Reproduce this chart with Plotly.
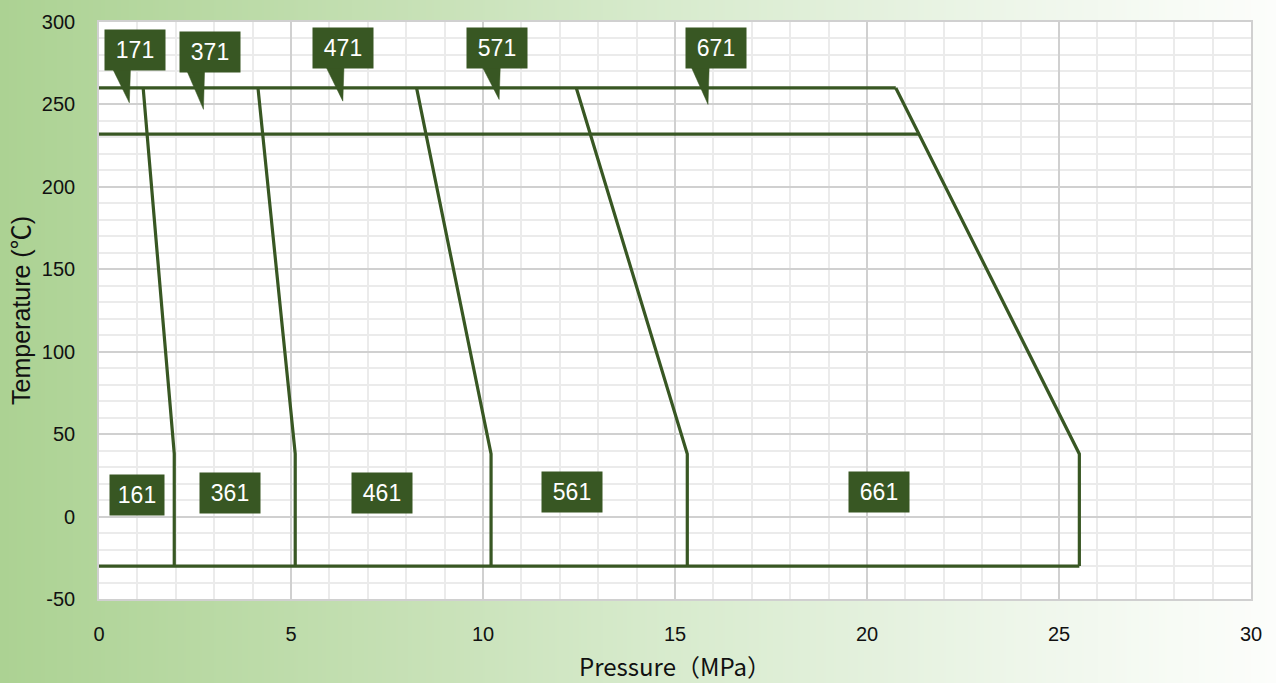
import base64
import struct
import zlib

import plotly.graph_objects as go

# ---- data -------------------------------------------------------------
# temperature levels (degC) that bound the rating envelopes
T_MIN = -30
T_KNEE = 38
T_MID = 232
T_MAX = 260

low_labels = ["161", "361", "461", "561", "661"]
high_labels = ["171", "371", "471", "571", "671"]
# allowable pressure (MPa) at T_KNEE and at T_MAX
p_at_knee = [1.96, 5.11, 10.21, 15.32, 25.53]
p_at_max = [1.15, 4.14, 8.27, 12.43, 20.75]
# end of the intermediate 232 degC line on the 661/671 envelope
p_mid_end = 21.36

# label positions (data coordinates)
low_label_x = [0.98, 3.40, 7.36, 12.32, 20.32]
low_label_y = [13.0, 14.1, 14.1, 14.8, 14.8]
high_label_x = [0.925, 2.88, 6.35, 10.36, 16.06]
high_label_y = [283, 282, 284, 284, 284]
high_tip_x = [0.79, 2.72, 6.35, 10.42, 15.86]
high_tip_y = [251, 247, 252, 253, 250]

x_ticks = [0, 5, 10, 15, 20, 25, 30]
y_ticks = [-50, 0, 50, 100, 150, 200, 250, 300]

# ---- style ------------------------------------------------------------
W, H = 1276, 683
ML, MR, MT, MB = 99, 25, 22, 84
PW, PH = W - ML - MR, H - MT - MB
GREEN = "#385723"
LW = 3.2
BOX_H_DATA = 40 * 350 / PH  # label box height in y units


def gradient_png(stops, width, height=2):
    """Horizontal colour ramp encoded as a small PNG data URI."""
    def col(t):
        for (t0, c0), (t1, c1) in zip(stops, stops[1:]):
            if t <= t1:
                f = (t - t0) / (t1 - t0) if t1 > t0 else 0
                return bytes(round(a + (b - a) * f) for a, b in zip(c0, c1))
        return bytes(stops[-1][1])

    row = b"\x00" + b"".join(col(i / (width - 1)) for i in range(width))
    raw = row * height

    def chunk(tag, data):
        return (struct.pack(">I", len(data)) + tag + data
                + struct.pack(">I", zlib.crc32(tag + data) & 0xFFFFFFFF))

    png = (b"\x89PNG\r\n\x1a\n"
           + chunk(b"IHDR", struct.pack(">IIBBBBB", width, height, 8, 2, 0, 0, 0))
           + chunk(b"IDAT", zlib.compress(raw))
           + chunk(b"IEND", b""))
    return "data:image/png;base64," + base64.b64encode(png).decode()


bg_stops = [
    (0.00, (172, 210, 147)),
    (0.20, (188, 219, 168)),
    (0.35, (201, 226, 185)),
    (0.50, (214, 234, 203)),
    (0.66, (226, 240, 219)),
    (0.80, (238, 246, 234)),
    (0.92, (247, 251, 245)),
    (1.00, (252, 253, 251)),
]

fig = go.Figure()

# rating envelopes: vertical from T_MIN to T_KNEE, then sloped to T_MAX
for pk, pm in zip(p_at_knee, p_at_max):
    fig.add_trace(go.Scatter(
        x=[pk, pk, pm], y=[T_MIN, T_KNEE, T_MAX], mode="lines",
        line=dict(color=GREEN, width=LW), hoverinfo="skip", showlegend=False))

# horizontal temperature limits
for x_end, t in [(p_at_knee[-1], T_MIN), (p_at_max[-1], T_MAX), (p_mid_end, T_MID)]:
    fig.add_trace(go.Scatter(
        x=[0, x_end], y=[t, t], mode="lines",
        line=dict(color=GREEN, width=LW), hoverinfo="skip", showlegend=False))

# callout pointers for the upper labels
for lx, ly, tx, ty in zip(high_label_x, high_label_y, high_tip_x, high_tip_y):
    base_y = ly - BOX_H_DATA / 2 + 1
    fig.add_trace(go.Scatter(
        x=[tx - 0.44, tx + 0.03, tx, tx - 0.44],
        y=[base_y, base_y, ty, base_y],
        mode="lines", fill="toself", fillcolor=GREEN,
        line=dict(color=GREEN, width=0.5), hoverinfo="skip", showlegend=False))

label_font = dict(family="Liberation Sans, Arial, sans-serif", size=23, color="white")
for txt, x, y in zip(high_labels, high_label_x, high_label_y):
    fig.add_annotation(x=x, y=y, text=txt, showarrow=False, font=label_font,
                       bgcolor=GREEN, width=60, height=40, borderpad=0,
                       xanchor="center", yanchor="middle")
for i, (txt, x, y) in enumerate(zip(low_labels, low_label_x, low_label_y)):
    fig.add_annotation(x=x, y=y, text=txt, showarrow=False, font=label_font,
                       bgcolor=GREEN, width=54 if i == 0 else 60, height=40,
                       borderpad=0, xanchor="center", yanchor="middle")

# gradient backdrop behind the whole figure, white plotting area on top
fig.add_layout_image(
    source=gradient_png(bg_stops, 640), xref="paper", yref="paper",
    x=-ML / PW, y=1 + MT / PH, sizex=W / PW, sizey=H / PH,
    xanchor="left", yanchor="top", sizing="stretch", layer="below")
fig.add_shape(type="rect", xref="paper", yref="paper", x0=0, x1=1, y0=0, y1=1,
              fillcolor="white", line=dict(width=0), layer="below")

tick_font = dict(family="Liberation Sans, Arial, sans-serif", size=20, color="#111111")
fig.update_layout(
    width=W, height=H,
    margin=dict(l=ML, r=MR, t=MT, b=MB, autoexpand=False),
    paper_bgcolor="rgb(172,210,147)", plot_bgcolor="white",
    showlegend=False,
    xaxis=dict(
        range=[0, 30], tickvals=x_ticks, ticktext=[str(v) for v in x_ticks],
        tickfont=tick_font, ticks="", ticklabelstandoff=16,
        showgrid=True, gridcolor="#d0d0d0", gridwidth=1.6,
        minor=dict(dtick=1, showgrid=True, gridcolor="#ebebeb", gridwidth=1.6),
        zeroline=False, showline=True, linecolor="#d0d0d0", linewidth=1.6, mirror=True,
        title=dict(text="Pressure（MPa）", standoff=15,
                   font=dict(family="Noto Sans CJK JP", size=24, color="#111111")),
        fixedrange=True,
    ),
    yaxis=dict(
        range=[-50, 300], tickvals=y_ticks, ticktext=[str(v) for v in y_ticks],
        tickfont=tick_font, ticks="", ticklabelstandoff=18,
        showgrid=True, gridcolor="#d0d0d0", gridwidth=1.6,
        minor=dict(dtick=10, showgrid=True, gridcolor="#ebebeb", gridwidth=1.6),
        zeroline=False, showline=True, linecolor="#d0d0d0", linewidth=1.6, mirror=True,
        title=dict(text="Temperature (℃)", standoff=4,
                   font=dict(family="Liberation Sans, Noto Sans CJK JP", size=25,
                             color="#111111")),
        fixedrange=True,
    ),
)

fig.write_html("out.html", config={"displayModeBar": False})
